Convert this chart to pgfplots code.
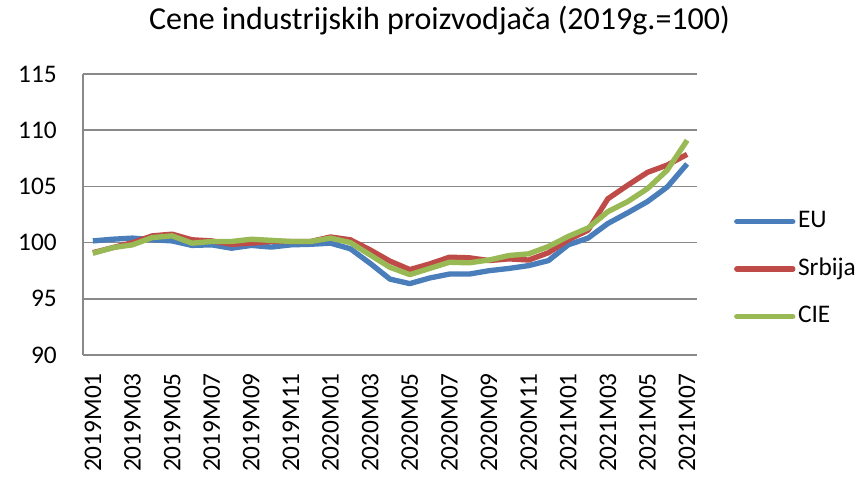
\documentclass[border=0pt]{standalone}
\usepackage{pgfplots}
\usepackage{pgfplotstable}
\pgfplotsset{compat=1.18}
\usepackage{fontspec}
\setmainfont{Carlito}
\definecolor{cEU}{HTML}{4A7EBB}
\definecolor{cSR}{HTML}{BE4B48}
\definecolor{cCIE}{HTML}{98B954}
\definecolor{gridc}{HTML}{898989}
\pgfplotstableread{
i EU SR CIE
0 100.15 99.10 99.05
1 100.30 99.55 99.55
2 100.40 100.00 99.80
3 100.25 100.60 100.45
4 100.15 100.75 100.60
5 99.75 100.25 99.95
6 99.80 100.15 100.10
7 99.50 99.85 100.10
8 99.75 99.95 100.30
9 99.60 100.10 100.20
10 99.80 100.10 100.10
11 99.85 100.10 100.10
12 99.95 100.50 100.40
13 99.45 100.25 100.00
14 98.15 99.35 98.90
15 96.75 98.35 97.80
16 96.35 97.60 97.15
17 96.85 98.10 97.70
18 97.20 98.70 98.25
19 97.20 98.65 98.20
20 97.50 98.40 98.45
21 97.70 98.55 98.85
22 97.95 98.45 99.00
23 98.40 99.10 99.65
24 99.80 100.25 100.55
25 100.40 101.10 101.30
26 101.70 103.90 102.75
27 102.65 105.10 103.65
28 103.65 106.25 104.80
29 104.95 106.90 106.45
30 107.00 107.85 109.10
}\datatable
\begin{document}
\begin{tikzpicture}
\useasboundingbox (0,0) rectangle (650.25pt,357.75pt);
\begin{axis}[
  at={(62.25pt,91.5pt)}, anchor=south west,
  scale only axis, width=460.5pt, height=210.75pt,
  xmin=-0.5, xmax=30.5, ymin=90, ymax=115,
  ytick={90,95,...,115},
  xtick={0,2,...,30},
  xticklabels={2019M01,2019M03,2019M05,2019M07,2019M09,2019M11,2020M01,2020M03,2020M05,2020M07,2020M09,2020M11,2021M01,2021M03,2021M05,2021M07},
  axis x line*=bottom, axis y line*=left,
  axis line style={draw=gridc, line width=1.2pt, -},
  ymajorgrids, grid style={draw=gridc, line width=1.2pt},
  major tick length=0pt,
  /pgf/number format/assume math mode=true,
  tick label style={font=\fontsize{19}{22}\selectfont, inner sep=0pt},
  xticklabel style={rotate=90, anchor=east},
  xticklabel shift=13.5pt,
  yticklabel shift=19.5pt,
  title={Cene industrijskih proizvodjača (2019g.=100)},
  every axis title/.style={at={(0.5806,1.19)}, anchor=center, font=\fontsize{24}{28}\selectfont, inner sep=0pt},
  legend style={draw=none, fill=none, at={(1.06,0.306)}, anchor=west, inner sep=0pt,
    font=\fontsize{19}{22}\selectfont,
    nodes={inner sep=0pt, text height=13pt, text depth=4pt},
    row sep=18.6pt},
  legend cell align=left,
  /tikz/every odd column/.style={column sep=2pt},
  legend image code/.code={\draw[#1, line cap=round] (0pt,0pt) -- (42pt,0pt);},
  every axis plot/.append style={line width=4pt, line join=round, no markers},
  clip=false,
]
\addplot[cEU] table[x=i, y=EU] {\datatable};
\addplot[cSR] table[x=i, y=SR] {\datatable};
\addplot[cCIE] table[x=i, y=CIE] {\datatable};
\legend{EU,Srbija,CIE}
\end{axis}
\end{tikzpicture}
\end{document}
